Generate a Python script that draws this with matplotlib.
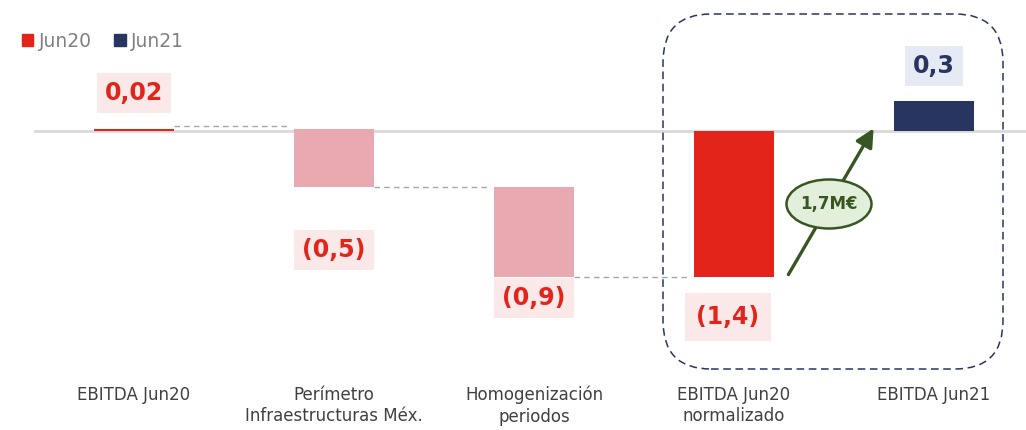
import matplotlib
matplotlib.use("Agg")
from matplotlib import pyplot as plt
from matplotlib.patches import Patch, FancyBboxPatch, Ellipse

# data (M€)
categories = ["EBITDA Jun20", "Perímetro\nInfraestructuras Méx.", "Homogenización\nperiodos",
              "EBITDA Jun20\nnormalizado", "EBITDA Jun21"]
steps = [0.02, -0.58, -0.90]       # start value + two adjustments
total_normalized = -1.46
ebitda_jun21 = 0.30
value_labels = ["0,02", "(0,5)", "(0,9)", "(1,4)", "0,3"]
delta_label = "1,7M€"
legend_labels = ["Jun20", "Jun21"]

RED = "#E3241B"
PINK = "#E8A9B0"
NAVY = "#283561"
GREEN = "#375623"

fig = plt.figure(figsize=(10.26, 4.3), dpi=100)
ax = fig.add_axes([0, 0, 1, 1])
ax.set_xlim(-0.67, 4.46)
ax.set_ylim(-2.99, 1.31)
ax.axis("off")

# baseline
ax.plot([-0.495, 4.46], [0, 0], color="#D9D9D9", lw=2, zorder=1)

# waterfall bars
width = 0.4
bottoms = [0.0, steps[0], steps[0] + steps[1]]
colors = [RED, PINK, PINK]
for i in range(3):
    ax.bar(i, steps[i], bottom=bottoms[i], width=width, color=colors[i], zorder=2)
ax.bar(3, total_normalized, bottom=0, width=width, color=RED, zorder=2)
ax.bar(4, ebitda_jun21, bottom=0, width=width, color=NAVY, zorder=2)

# connectors
levels = [steps[0], steps[0] + steps[1], total_normalized]
for i, lev in enumerate(levels):
    y = lev + (0.03 if i == 0 else 0)
    ax.plot([i + 0.2, i + 0.78], [y, y], color="#A6A6A6", lw=1, dashes=(4, 3), zorder=1)

# value labels
label_x = [0, 1, 2, 2.97, 4]
label_y = [0.38, -1.19, -1.67, -1.86, 0.65]
for k, txt in enumerate(value_labels):
    fc = "#E5EAF5" if k == 4 else "#FBE9EA"
    tc = NAVY if k == 4 else RED
    pad = 0.5 if k == 3 else 0.35
    ax.text(label_x[k], label_y[k], txt, ha="center", va="center", fontsize=17,
            fontweight="bold", color=tc,
            bbox=dict(boxstyle="square,pad=%s" % pad, fc=fc, ec="none"), zorder=4)

# category labels
for i, c in enumerate(categories):
    ax.text(i, -2.55, c, ha="center", va="top", fontsize=12, color="#404040",
            linespacing=1.25)

# highlight box around normalized comparison
box = FancyBboxPatch((2.645, -2.38), 1.7, 3.55,
                     boxstyle="round,pad=0,rounding_size=0.24", mutation_aspect=2,
                     fill=False, ec=NAVY, lw=1.1, ls=(0, (5, 3)), zorder=3)
ax.add_patch(box)

# arrow showing the improvement
ax.annotate("", xy=(3.705, 0.05), xytext=(3.265, -1.46),
            arrowprops=dict(arrowstyle="-|>,head_length=1.1,head_width=0.55",
                            color=GREEN, lw=2.4), zorder=3)
ax.add_patch(Ellipse((3.475, -0.73), 0.425, 0.49, fc="#E2EFDA", ec=GREEN, lw=1.8, zorder=4))
ax.text(3.475, -0.73, delta_label, ha="center", va="center", fontsize=12,
        fontweight="bold", color=GREEN, zorder=5)

# legend
handles = [Patch(color=RED), Patch(color=NAVY)]
fig.legend(handles, legend_labels, loc="upper left", bbox_to_anchor=(0.005, 0.965),
           ncol=2, frameon=False, handlelength=0.6, handleheight=0.6, handletextpad=0.3,
           columnspacing=1.2, prop=dict(size=13.5), labelcolor="#808080")

fig.savefig("out.png", dpi=100)
